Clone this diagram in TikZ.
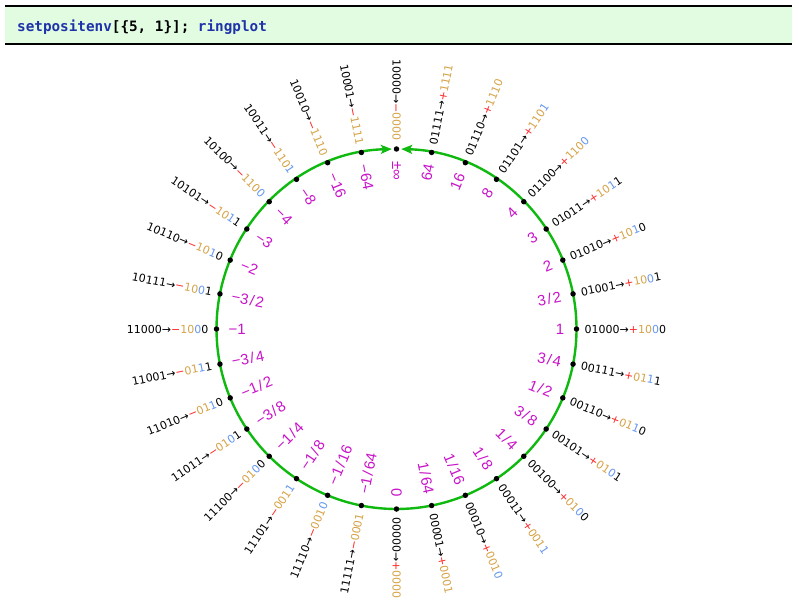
\documentclass[tikz,border=0pt]{standalone}
\usepackage{fontspec}
\setmainfont{DejaVu Sans}
\newfontfamily\lblfont{DejaVu Sans}
\newfontfamily\valfont{Liberation Sans}
\newfontfamily\codefont{DejaVu Sans Mono}
\usetikzlibrary{arrows.meta}
\definecolor{regc}{RGB}{214,162,70}
\definecolor{expc}{RGB}{100,150,240}
\definecolor{sgnc}{RGB}{255,40,40}
\definecolor{valc}{RGB}{200,20,200}
\definecolor{ringc}{RGB}{16,185,16}
\definecolor{cellbg}{RGB}{226,252,226}
\definecolor{codeblue}{RGB}{30,50,170}
\newcommand\Rg[1]{\textcolor{regc}{#1}}
\newcommand\Ex[1]{\textcolor{expc}{#1}}
\newcommand\Pl{\textcolor{sgnc}{+}}
\newcommand\Mn{\textcolor{sgnc}{−}}
\newcommand\Fr[2]{#1\kern1.5pt/\kern1.5pt#2}
\begin{document}
\begin{tikzpicture}[x=1pt,y=1pt,
  outl/.style={font=\lblfont\fontsize{11}{11}\selectfont, inner sep=0pt},
  inl/.style={font=\valfont\fontsize{15}{15}\selectfont, text=valc, inner sep=0pt},
  dotn/.style={circle, fill=black, inner sep=0pt, minimum size=5.5pt},
  ring/.style={ringc, line width=2.4pt},
  tipst/.tip={Stealth[length=11pt,width=9pt,inset=2.5pt]},
  rule/.style={line width=1.5pt}]
\useasboundingbox (0,-609) rectangle (799,0);
% input cell
\fill[cellbg] (5,-6) rectangle (792,-44);
\coordinate (tl) at (5,-6);
\coordinate (tr) at (792,-6);
\coordinate (bl) at (5,-44);
\coordinate (br) at (792,-44);
\draw[rule] (tl) -- (tr);
\draw[rule] (bl) -- (br);
\node[anchor=base west, inner sep=0pt, font=\codefont\bfseries\fontsize{14.3}{14.3}\selectfont] (code) at (17,-32)
  {\textcolor{codeblue}{setpositenv}[\{5, 1\}]; \textcolor{codeblue}{ringplot}};
% ring
\coordinate (C) at (396.5,-329);
\draw[ring, tipst-tipst] ([shift={(91.5:180)}]C) arc[start angle=91.5, end angle=448.5, radius=180];
\foreach \k in {0,...,31}{
  \pgfmathsetmacro\ang{-90+11.25*\k}
  \node[dotn] (p\k) at ([shift={(C)}]\ang:180) {};
}
\foreach \k/\b/\r/\v in {
 0/{00000}/{\Pl\Rg{0000}}/{0},
 1/{00001}/{\Pl\Rg{0001}}/{\Fr{1}{64}},
 2/{00010}/{\Pl\Rg{001}\Ex{0}}/{\Fr{1}{16}},
 3/{00011}/{\Pl\Rg{001}\Ex{1}}/{\Fr{1}{8}},
 4/{00100}/{\Pl\Rg{01}\Ex{0}0}/{\Fr{1}{4}},
 5/{00101}/{\Pl\Rg{01}\Ex{0}1}/{\Fr{3}{8}},
 6/{00110}/{\Pl\Rg{01}\Ex{1}0}/{\Fr{1}{2}},
 7/{00111}/{\Pl\Rg{01}\Ex{1}1}/{\Fr{3}{4}},
 8/{01000}/{\Pl\Rg{10}\Ex{0}0}/{1},
 9/{01001}/{\Pl\Rg{10}\Ex{0}1}/{\Fr{3}{2}},
 10/{01010}/{\Pl\Rg{10}\Ex{1}0}/{2},
 11/{01011}/{\Pl\Rg{10}\Ex{1}1}/{3},
 12/{01100}/{\Pl\Rg{110}\Ex{0}}/{4},
 13/{01101}/{\Pl\Rg{110}\Ex{1}}/{8},
 14/{01110}/{\Pl\Rg{1110}}/{16},
 15/{01111}/{\Pl\Rg{1111}}/{64},
 16/{10000}/{\Mn\Rg{0000}}/{±∞},
 17/{10001}/{\Mn\Rg{1111}}/{−64},
 18/{10010}/{\Mn\Rg{1110}}/{−16},
 19/{10011}/{\Mn\Rg{110}\Ex{1}}/{−8},
 20/{10100}/{\Mn\Rg{110}\Ex{0}}/{−4},
 21/{10101}/{\Mn\Rg{10}\Ex{1}1}/{−3},
 22/{10110}/{\Mn\Rg{10}\Ex{1}0}/{−2},
 23/{10111}/{\Mn\Rg{10}\Ex{0}1}/{−\Fr{3}{2}},
 24/{11000}/{\Mn\Rg{10}\Ex{0}0}/{−1},
 25/{11001}/{\Mn\Rg{01}\Ex{1}1}/{−\Fr{3}{4}},
 26/{11010}/{\Mn\Rg{01}\Ex{1}0}/{−\Fr{1}{2}},
 27/{11011}/{\Mn\Rg{01}\Ex{0}1}/{−\Fr{3}{8}},
 28/{11100}/{\Mn\Rg{01}\Ex{0}0}/{−\Fr{1}{4}},
 29/{11101}/{\Mn\Rg{001}\Ex{1}}/{−\Fr{1}{8}},
 30/{11110}/{\Mn\Rg{001}\Ex{0}}/{−\Fr{1}{16}},
 31/{11111}/{\Mn\Rg{0001}}/{−\Fr{1}{64}}}{
  \pgfmathsetmacro\ang{-90+11.25*\k}
  \pgfmathsetmacro\flip{\ang+180}
  \ifnum\k<16
    \node[outl, anchor=west, rotate=\ang] (o\k) at ([shift={(C)}]\ang:188) {\b→\r};
    \node[inl, anchor=east, rotate=\ang] (v\k) at ([shift={(C)}]\ang:168) {\v};
  \else
    \node[outl, anchor=east, rotate=\flip] (o\k) at ([shift={(C)}]\ang:188) {\b→\r};
    \node[inl, anchor=west, rotate=\flip] (v\k) at ([shift={(C)}]\ang:168) {\v};
  \fi
}
\end{tikzpicture}
\end{document}
